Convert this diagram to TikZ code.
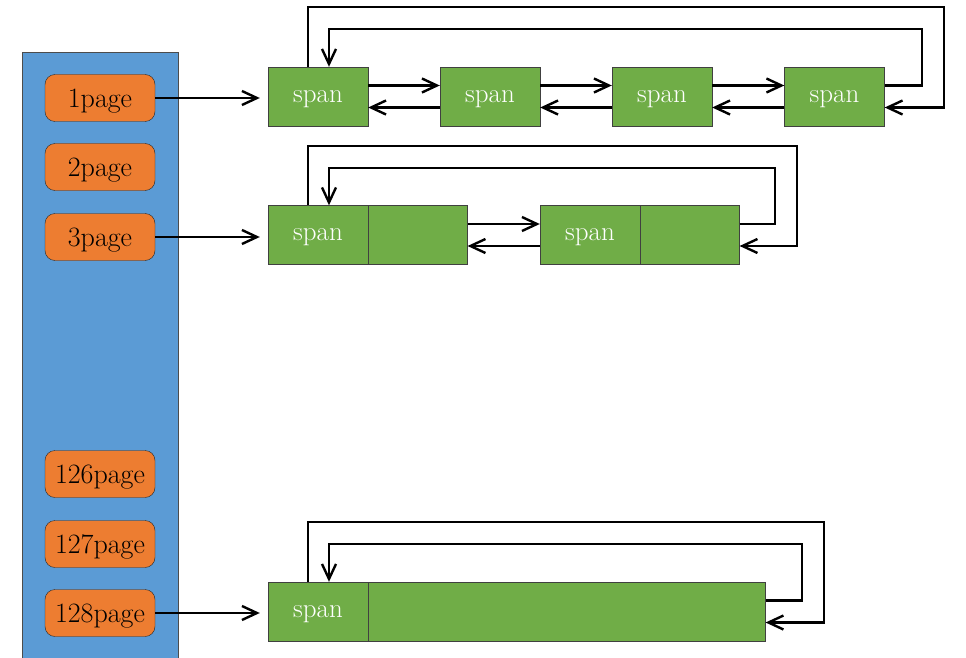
\documentclass[tikz,border=0pt]{standalone}
\usepackage{tikz}
\usetikzlibrary{arrows.meta}
\definecolor{listblue}{HTML}{5B9BD5}
\definecolor{pageorange}{HTML}{ED7D31}
\definecolor{spangreen}{HTML}{70AD47}
\begin{document}
\begin{tikzpicture}[x=1pt,y=-1pt,
  pagebox/.style={draw=black!85,fill=pageorange,rounded corners=10pt,minimum width=110pt,minimum height=47pt,inner sep=0pt,text depth=0pt,font=\fontsize{28}{30}\selectfont},
  spanbox/.style={draw=black!75,fill=spangreen,minimum width=100pt,minimum height=59pt,inner sep=0pt,text depth=0pt,text=white,font=\fontsize{27}{30}\selectfont},
  link/.style={line width=2.4pt,-{Straight Barb[length=15pt,width=14pt]}}]
    \useasboundingbox (0,0) rectangle (966,658);
    % page list
    \fill[listblue] (22,52) rectangle (178,658);
    \draw[black!70] (22,658) -- (22,52) -- (178,52) -- (178,658);
    \node[pagebox] (p1) at (100,98) {1page};
    \node[pagebox] (p2) at (100,167) {2page};
    \node[pagebox] (p3) at (100,237) {3page};
    \node[pagebox] (p126) at (100,474) {126page};
    \node[pagebox] (p127) at (100,544) {127page};
    \node[pagebox] (p128) at (100,613) {128page};
    % spans of 1 page
    \node[spanbox] (s11) at (318,96.5) {span};
    \node[spanbox] (s12) at (490,96.5) {span};
    \node[spanbox] (s13) at (662,96.5) {span};
    \node[spanbox] (s14) at (834.5,96.5) {span};
    % spans of 3 pages
    \node[spanbox] (s21) at (318,235) {span};
    \node[spanbox,minimum width=99pt,anchor=west] (t21) at (s21.east) {};
    \node[spanbox] (s22) at (590,235) {span};
    \node[spanbox,minimum width=99pt,anchor=west] (t22) at (s22.east) {};
    % span of 128 pages
    \node[spanbox] (s31) at (318,611.5) {span};
    \node[spanbox,minimum width=397pt,anchor=west] (t31) at (s31.east) {};
    % page -> first span
    \draw[link,shorten >=8pt] (p1.east) -- (p1.east -| s11.west);
    \draw[link,shorten >=8pt] (p3.east) -- (p3.east -| s21.west);
    \draw[link,shorten >=8pt] (p128.east) -- (p128.east -| s31.west);
    % row 1
    \draw[link] ([yshift=11pt]s11.east) -- ([yshift=11pt]s12.west);
    \draw[link] ([yshift=-11pt]s12.west) -- ([yshift=-11pt]s11.east);
    \draw[link] ([yshift=11pt]s12.east) -- ([yshift=11pt]s13.west);
    \draw[link] ([yshift=-11pt]s13.west) -- ([yshift=-11pt]s12.east);
    \draw[link] ([yshift=11pt]s13.east) -- ([yshift=11pt]s14.west);
    \draw[link] ([yshift=-11pt]s14.west) -- ([yshift=-11pt]s13.east);
    \draw[link] ([xshift=-10pt]s11.north) |- (944,7) |- ([yshift=-11pt]s14.east);
    \draw[link] ([yshift=11pt]s14.east) -| (922,29) -| ([xshift=11pt]s11.north);
    % row 2
    \draw[link] ([yshift=11pt]t21.east) -- ([yshift=11pt]s22.west);
    \draw[link] ([yshift=-11pt]s22.west) -- ([yshift=-11pt]t21.east);
    \draw[link] ([xshift=-10pt]s21.north) |- (797,146) |- ([yshift=-11pt]t22.east);
    \draw[link] ([yshift=11pt]t22.east) -| (775,168) -| ([xshift=11pt]s21.north);
    % row 3
    \draw[link] ([xshift=-10pt]s31.north) |- (824,522) |- ([yshift=-11pt]t31.east);
    \draw[link] ([yshift=11pt]t31.east) -| (802,544) -| ([xshift=11pt]s31.north);
\end{tikzpicture}
\end{document}
